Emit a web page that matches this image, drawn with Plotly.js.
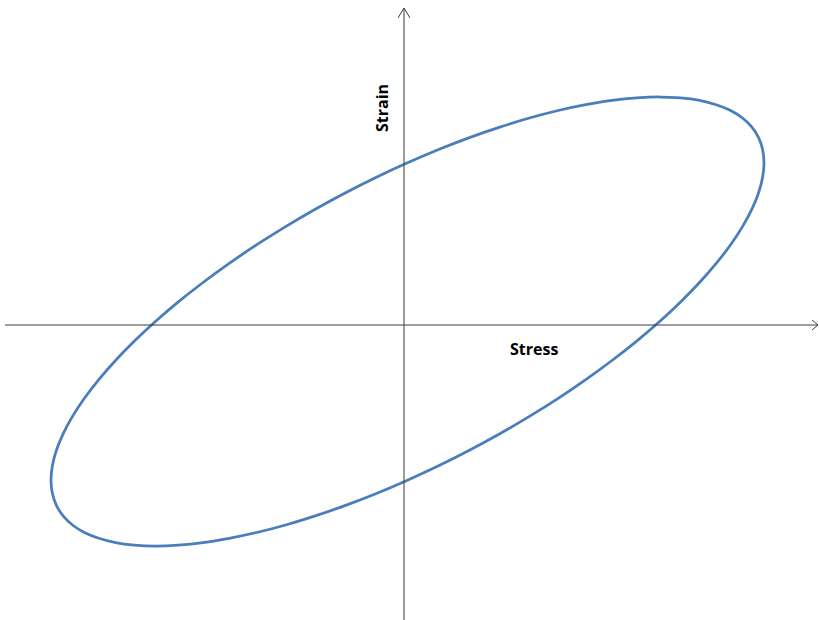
<!DOCTYPE html>
<html>
<head>
<meta charset="utf-8">
<script src="https://cdn.plot.ly/plotly-3.0.1.min.js"></script>
<style>
  html, body { margin: 0; padding: 0; background: #ffffff; }
  #chart { width: 819px; height: 620px; }
</style>
</head>
<body>
<div id="chart"></div>
<script>
// Hysteresis loop: stress (horizontal) against strain (vertical), traced clockwise
const stress = [3.5, 34.6, 65.4, 95.8, 125.4, 154.2, 181.8, 208.0, 232.7, 255.6, 276.6, 295.5, 312.2, 326.6, 338.5, 347.9, 354.6, 358.6, 360.0,
  358.6, 354.6, 347.9, 338.5, 326.6, 312.2, 295.5, 276.6, 255.6, 232.7, 208.0, 181.8, 154.2, 125.4, 95.8, 65.4, 34.6, 3.5,
  -27.6, -58.4, -88.8, -118.4, -147.2, -174.8, -201.0, -225.7, -248.6, -269.6, -288.5, -305.2, -319.6, -331.5, -340.9, -347.6, -351.6, -353.0,
  -351.6, -347.6, -340.9, -331.5, -319.6, -305.2, -288.5, -269.6, -248.6, -225.7, -201.0, -174.8, -147.2, -118.4, -88.8, -58.4, -27.6, 3.5];
const strain = [162.2, 175.5, 187.4, 197.9, 207.0, 214.5, 220.3, 224.6, 227.1, 228.0, 227.1, 224.6, 220.3, 214.5, 207.0, 197.9, 187.4, 175.5, 162.2,
  147.8, 132.3, 115.8, 98.4, 80.3, 61.6, 42.5, 23.1, 3.5, -16.1, -35.5, -54.6, -73.3, -91.4, -108.8, -125.3, -140.8, -155.2,
  -168.5, -180.4, -190.9, -200.0, -207.5, -213.3, -217.6, -220.1, -221.0, -220.1, -217.6, -213.3, -207.5, -200.0, -190.9, -180.4, -168.5, -155.2,
  -140.8, -125.3, -108.8, -91.4, -73.3, -54.6, -35.5, -16.1, 3.5, 23.1, 42.5, 61.6, 80.3, 98.4, 115.8, 132.3, 147.8, 162.2];

const xLabel = 'Stress';
const yLabel = 'Strain';

// Visible extent of the axes
const xRange = [-404, 415];
const yRange = [-295, 325];

const axisColor = '#3c3c3c';

const loop = {
  x: stress,
  y: strain,
  type: 'scatter',
  mode: 'lines',
  line: { color: '#4a7ebb', width: 2.75, shape: 'spline', smoothing: 1, simplify: false },
  hoverinfo: 'skip'
};

// Drawn axes with open arrow heads
const shapes = [
  { type: 'line', xref: 'x', yref: 'y', x0: -399, y0: 0, x1: 414, y1: 0,
    line: { color: axisColor, width: 1 } },
  { type: 'path', xref: 'x', yref: 'y', path: 'M 408 5 L 414 0 L 408 -5',
    line: { color: axisColor, width: 1 } },
  { type: 'line', xref: 'x', yref: 'y', x0: 0, y0: -295, x1: 0, y1: 317,
    line: { color: axisColor, width: 1 } },
  { type: 'path', xref: 'x', yref: 'y', path: 'M -6 307 L 0 317 L 6 307',
    line: { color: axisColor, width: 1 } }
];

const labelFont = { family: 'Open Sans, Liberation Sans, sans-serif', size: 16, color: '#000000' };

const annotations = [
  { x: 130, y: -24, xref: 'x', yref: 'y', text: '<b>' + xLabel + '</b>', showarrow: false,
    font: labelFont },
  { x: -22, y: 217, xref: 'x', yref: 'y', text: '<b>' + yLabel + '</b>', showarrow: false,
    textangle: -90, font: labelFont }
];

const layout = {
  width: 819,
  height: 620,
  margin: { l: 0, r: 0, t: 0, b: 0 },
  paper_bgcolor: '#ffffff',
  plot_bgcolor: '#ffffff',
  showlegend: false,
  xaxis: { range: xRange, visible: false, fixedrange: true },
  yaxis: { range: yRange, visible: false, fixedrange: true },
  shapes: shapes,
  annotations: annotations
};

Plotly.newPlot('chart', [loop], layout, { displayModeBar: false, staticPlot: true });
</script>
</body>
</html>
